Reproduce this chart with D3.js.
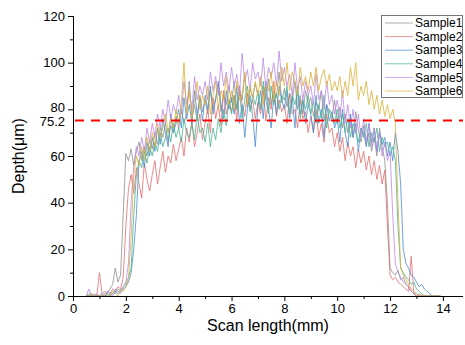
<!DOCTYPE html>
<html><head><meta charset="utf-8">
<script src="https://cdn.jsdelivr.net/npm/d3@7"></script>
<style>body{margin:0;background:#fff}svg{display:block}text{font-family:"Liberation Sans",Arial,sans-serif}</style>
</head><body><svg id="c" width="465" height="345"></svg>
<script>
// sampling grid: values start at 0.5 mm, one value every 0.1 mm
const xStart = 0.5, xStep = 0.1;
const seriesNames = ["Sample1","Sample2","Sample3","Sample4","Sample5","Sample6"];
const seriesColors = ["#8e8e8e","#e36d6d","#4b8cd0","#48b290","#bd88e6","#dcb23a"];
const xTicks = [0,2,4,6,8,10,12,14];
const yTicks = [0,20,40,60,80,100,120];
const refValue = 75.2;
const sample1 = [0,0,0,1,0,
 0,1,2,1,3,5,12,6,9,35,
 61,58,63,56,62,66,58,64,60,67,
 63,70,65,72,68,74,66,73,70,77,
 72,80,74,78,92,76,82,75,86,79,
 84,78,88,80,85,91,79,86,82,90,
 83,92,80,88,84,95,81,89,85,91,
 86,80,90,84,93,82,88,85,96,83,
 89,81,87,84,92,80,86,78,88,82,
 85,77,83,80,88,75,82,79,76,84,
 74,81,72,78,70,76,68,79,71,66,
 73,65,70,62,68,60,72,64,58,40,
 12,10,9,11,7,8,5,4,2,1,
 0,1,0,0,0,0,0,0,0,0];
const sample2 = [0,0,1,0,0,
 10,1,0,2,1,3,2,4,3,8,
 30,46,52,44,55,48,42,57,50,45,
 52,58,48,55,62,53,60,57,65,58,
 63,68,60,72,66,75,64,70,78,67,
 74,80,70,85,76,82,73,88,78,84,
 79,86,75,90,82,77,87,80,84,76,
 83,78,88,75,85,80,92,77,84,79,
 82,74,86,78,80,72,84,76,79,70,
 77,70,80,68,74,66,78,70,72,64,
 70,62,68,58,66,60,64,55,63,57,
 62,54,60,52,58,50,56,48,54,30,
 9,7,8,6,5,4,3,2,17,1,
 0,0,0,0,0,0,0,0,0,0];
const sample3 = [0,0,0,0,0,
 0,0,0,1,0,1,2,1,2,3,
 4,6,10,20,35,58,62,55,66,60,
 68,62,72,65,76,70,64,78,70,74,
 80,72,85,76,82,74,88,78,84,75,
 86,80,90,78,84,92,82,76,88,80,
 85,78,90,74,82,68,80,86,77,64,
 82,88,76,92,80,72,86,78,90,84,
 80,88,76,85,72,90,78,84,74,82,
 78,70,86,74,80,68,82,75,79,72,
 76,66,80,70,64,78,68,74,62,72,
 70,64,74,66,72,62,70,65,68,60,
 66,58,70,62,48,20,14,12,9,8,
 6,4,5,3,2,1,0,0,0,0];
const sample4 = [0,1,0,0,0,
 0,0,1,0,1,2,1,3,2,4,
 5,8,12,35,52,58,55,62,57,64,
 60,66,62,70,64,68,72,66,74,68,
 72,66,76,70,68,74,67,78,70,72,
 66,74,64,72,67,76,70,80,73,84,
 78,86,80,88,76,84,90,79,86,82,
 88,80,92,84,78,90,82,87,80,86,
 84,90,78,86,82,88,76,84,80,86,
 78,84,74,82,76,86,72,80,78,74,
 80,72,78,70,76,68,74,70,66,72,
 68,74,64,70,66,72,62,68,64,66,
 60,64,58,30,12,10,8,7,5,6,
 3,2,1,0,0,0,0,0,0,0];
const sample5 = [0,3,0,0,1,
 0,1,0,2,1,0,3,2,1,4,
 6,14,40,56,64,60,68,62,72,66,
 74,68,78,72,80,74,84,76,82,78,
 86,78,92,82,88,80,94,84,90,86,
 92,84,96,88,94,86,100,90,96,88,
 98,90,95,86,104,92,97,88,100,93,
 96,90,102,88,98,94,100,90,105,92,
 98,90,95,86,100,88,94,84,92,86,
 90,82,95,84,88,80,92,82,86,78,
 84,76,88,74,82,72,80,70,78,68,
 76,66,74,64,72,62,70,60,66,58,
 62,35,14,10,8,6,5,4,2,1,
 1,0,0,0,0,0,0,0,0,0];
const sample6 = [0,0,1,0,0,
 0,0,1,0,0,2,1,0,3,2,
 4,8,25,52,60,56,64,58,68,62,
 70,64,74,68,72,78,70,76,72,80,
 74,82,100,78,88,76,84,92,80,86,
 82,90,78,86,92,80,88,84,94,82,
 88,80,92,84,86,96,82,90,85,92,
 86,94,82,90,88,96,84,92,86,98,
 90,100,88,96,92,86,98,90,94,88,
 96,90,98,88,94,97,90,95,88,92,
 88,94,85,92,86,98,90,100,84,90,
 86,92,82,88,80,86,78,84,77,82,
 76,80,74,40,12,9,7,5,3,2,
 1,0,0,0,0,0,0,0,0,0];
const seriesValues = [sample1,sample2,sample3,sample4,sample5,sample6];

const svg = d3.select("#c");
const L = 73, R = 463, T = 16, B = 296;
const x = d3.scaleLinear().domain([0, 14.76]).range([L, R]);
const y = d3.scaleLinear().domain([0, 120]).range([B, T]);

const line = d3.line().x((d,i)=>x(xStart + i*xStep)).y(d=>y(d));
const plot = svg.append("g");
seriesValues.forEach((vals, k) => {
  plot.append("path").datum(vals).attr("d", line)
    .attr("fill","none").attr("stroke", seriesColors[k])
    .attr("stroke-width", 0.8).attr("stroke-linejoin","round");
});

// reference line
svg.append("line").attr("x1", L).attr("x2", R).attr("y1", y(refValue)).attr("y2", y(refValue))
  .attr("stroke","#ff0000").attr("stroke-width",2).attr("stroke-dasharray","9,7").attr("stroke-dashoffset",-2);

// axes
const fs = "13px";
const xAxis = d3.axisBottom(x).tickValues(xTicks).tickSize(5).tickPadding(3).tickFormat(d3.format("d"));
const gx = svg.append("g").attr("transform",`translate(0,${B})`).call(xAxis);
gx.select(".domain").attr("d", `M${L},0.5H${R}`);
gx.selectAll("text").attr("font-size", fs).attr("font-family","Liberation Sans, Arial");
const xMinor = d3.axisBottom(x).tickValues([1,3,5,7,9,11,13]).tickSize(3).tickFormat("");
const gxm = svg.append("g").attr("transform",`translate(0,${B})`).call(xMinor);
gxm.select(".domain").remove();

const yAxis = d3.axisLeft(y).tickValues(yTicks).tickSize(5).tickPadding(3);
const gy = svg.append("g").attr("transform",`translate(${L},0)`).call(yAxis);
gy.select(".domain").attr("d", `M0.5,${B}V${T}`);
gy.selectAll("text").attr("font-size", fs).attr("font-family","Liberation Sans, Arial");
gy.selectAll(".tick").filter(d=>d===80).select("text").attr("dy","0.15em");
const yMinor = d3.axisLeft(y).tickValues([10,30,50,70,90,110]).tickSize(3).tickFormat("");
const gym = svg.append("g").attr("transform",`translate(${L},0)`).call(yMinor);
gym.select(".domain").remove();
// reference label
svg.append("text").attr("x", L-8).attr("y", y(refValue)).attr("dy","0.45em")
  .attr("text-anchor","end").attr("font-size", fs).text(String(refValue));

// axis titles
svg.append("text").attr("x", (L+R)/2).attr("y", 331).attr("text-anchor","middle")
  .attr("font-size","16px").text("Scan length(mm)");
svg.append("text").attr("transform",`translate(24,${(T+B)/2}) rotate(-90)`).attr("text-anchor","middle")
  .attr("font-size","16px").text("Depth(μm)");

// legend
const lg = svg.append("g");
lg.append("rect").attr("x",381.5).attr("y",15.5).attr("width",81).attr("height",82)
  .attr("fill","#fff").attr("stroke","#777").attr("stroke-width",1);
seriesNames.forEach((n,k)=>{
  const yy = 23 + k*13.6;
  lg.append("line").attr("x1",385).attr("x2",413).attr("y1",yy).attr("y2",yy)
    .attr("stroke",seriesColors[k]).attr("stroke-width",1).attr("opacity",0.7);
  lg.append("text").attr("x",415).attr("y",yy).attr("dy","0.35em").attr("font-size","12px").text(n);
});
</script></body></html>
